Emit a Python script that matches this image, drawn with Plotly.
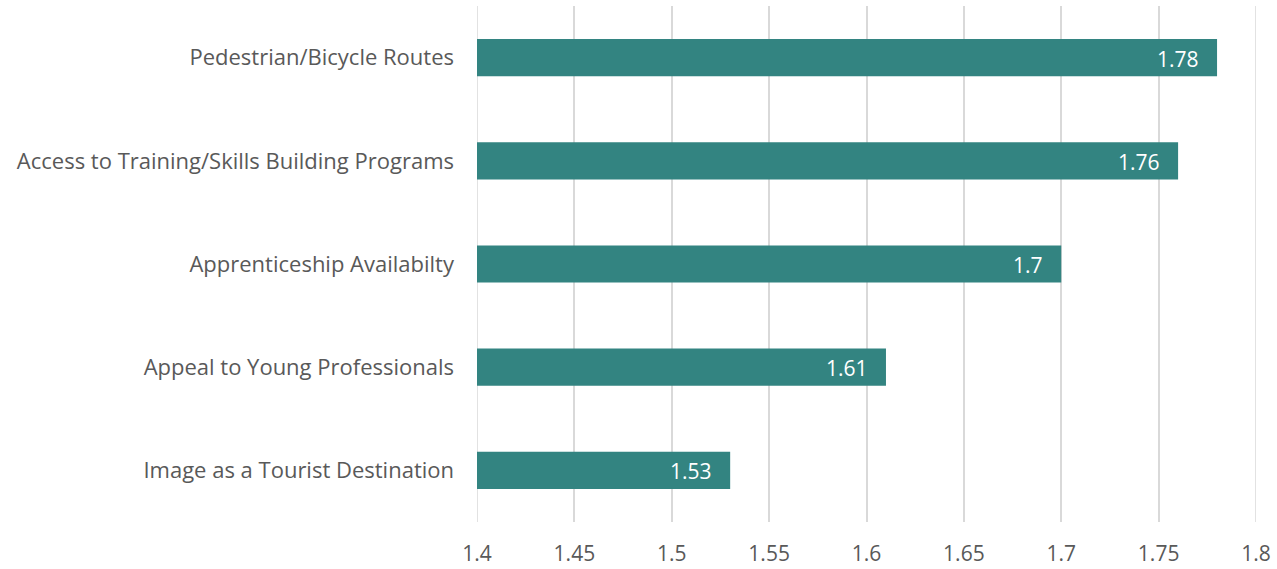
import plotly.graph_objects as go

categories = [
    "Image as a Tourist Destination",
    "Appeal to Young Professionals",
    "Apprenticeship Availabilty",
    "Access to Training/Skills Building Programs",
    "Pedestrian/Bicycle Routes",
]
values = [1.53, 1.61, 1.7, 1.76, 1.78]
x_ticks = [1.4, 1.45, 1.5, 1.55, 1.6, 1.65, 1.7, 1.75, 1.8]
x_tick_labels = ["1.4", "1.45", "1.5", "1.55", "1.6", "1.65", "1.7", "1.75", "1.8"]

BAR_COLOR = "#338481"
TEXT_COLOR = "#595959"
GRID_COLOR = "#d9d9d9"
FONT = "Open Sans, sans-serif"

fig = go.Figure(
    go.Bar(
        x=[v - 1.4 for v in values],
        base=1.4,
        y=categories,
        orientation="h",
        marker=dict(color=BAR_COLOR, line=dict(width=0)),
        width=0.36,
        hoverinfo="skip",
    )
)

# value labels sit inside the bar end
for cat, v in zip(categories, values):
    fig.add_annotation(
        x=v, y=cat, xref="x", yref="y",
        text=f"{v:g}", showarrow=False,
        xanchor="right", xshift=-16, yshift=-1,
        font=dict(family=FONT, size=21, color="white"),
    )

# gridlines at the two ends of the axis range
for edge in (x_ticks[0], x_ticks[-1]):
    fig.add_shape(
        type="line", xref="x", yref="paper",
        x0=edge, x1=edge, y0=0, y1=1,
        line=dict(color=GRID_COLOR, width=1.5), layer="below",
    )

fig.update_layout(
    width=1277, height=569,
    margin=dict(l=477, r=21, t=6, b=47),
    paper_bgcolor="white", plot_bgcolor="white",
    showlegend=False,
    font=dict(family=FONT, size=22, color=TEXT_COLOR),
    bargap=0.64,
)
fig.update_xaxes(
    range=[x_ticks[0], x_ticks[-1]],
    tickvals=x_ticks, ticktext=x_tick_labels,
    showgrid=True, gridcolor=GRID_COLOR, gridwidth=1.5,
    zeroline=False, showline=False, ticks="",
    ticklabelstandoff=17, automargin=False,
    tickfont=dict(family=FONT, size=21, color=TEXT_COLOR),
)
fig.update_yaxes(
    showgrid=False, zeroline=False, showline=False, ticks="",
    ticklabelstandoff=22, automargin=False,
    tickfont=dict(family=FONT, size=22, color=TEXT_COLOR),
)

fig.write_html("out.html")
